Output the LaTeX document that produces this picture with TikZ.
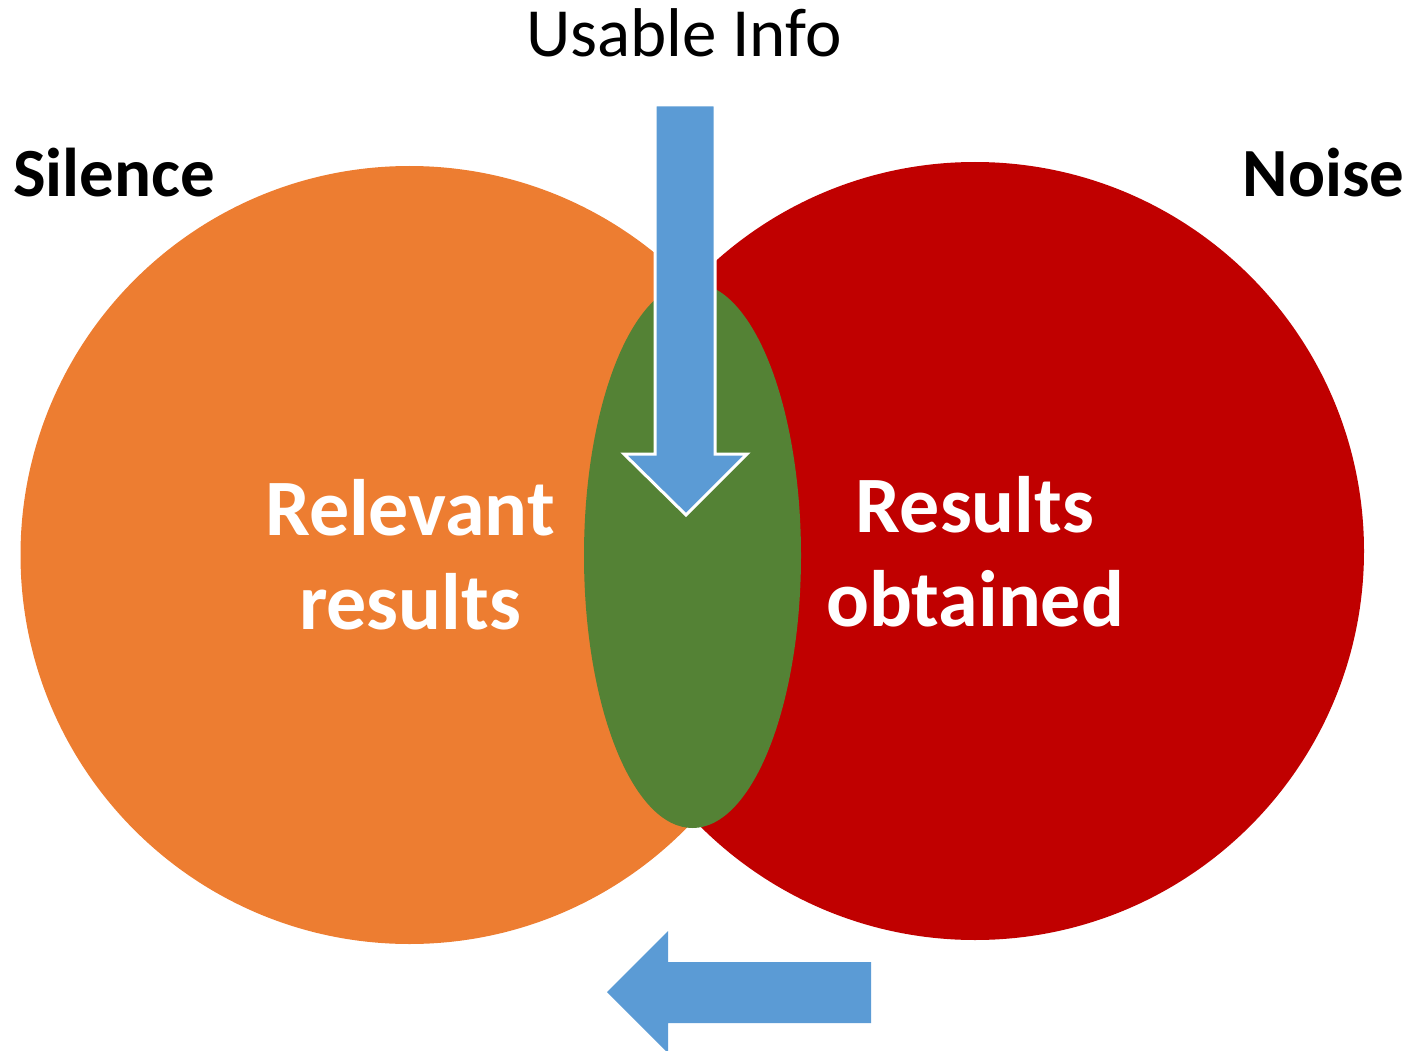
\documentclass[tikz,border=0pt]{standalone}
\usepackage{fontspec}
\setmainfont{Carlito}
\usetikzlibrary{shapes.geometric}
\definecolor{setorange}{HTML}{ED7D31}
\definecolor{setred}{HTML}{C00000}
\definecolor{setgreen}{HTML}{548235}
\definecolor{arrowblue}{HTML}{5B9BD5}
\begin{document}
\begin{tikzpicture}[x=1pt,y=-1pt,
  setdisc/.style={circle, inner sep=0pt, minimum size=778pt},
  setlabel/.style={white, align=center, font=\bfseries\fontsize{80}{94}\selectfont},
  sidelabel/.style={black, anchor=base, font=\bfseries\fontsize{69}{80}\selectfont},
  blockarrow/.style={fill=arrowblue}]
\useasboundingbox (0,0) rectangle (1409,1051);

% the two sets and their overlap
\node[setdisc, fill=setorange] (relevant) at (409.5,555) {};
\node[setdisc, fill=setred] (obtained) at (975,551) {};
\node[ellipse, inner sep=0pt, minimum width=217pt, minimum height=545pt, fill=setgreen] (usable) at (692.5,555.5) {};

% labels inside the sets
\node[setlabel] (relevantlabel) at (410,555) {Relevant\\results};
\node[setlabel] (obtainedlabel) at (975,552) {Results\\obtained};

% labels outside
\node[sidelabel] (silence) at (114,197) {Silence};
\node[sidelabel] (noise) at (1323.5,197) {Noise};
\node[anchor=base, font=\fontsize{69}{80}\selectfont] (usableinfo) at (684,57) {Usable Info};

% arrow pointing down into the overlap
\draw[blockarrow, draw=white, line width=3pt, line join=miter]
  (655,105) -- (715,105) -- (715,454) -- (747,454) -- (686,515)
  -- (624,454) -- (655,454) -- cycle;

% arrow pointing left below the sets
\fill[arrowblue]
  (871,962) -- (871,1023) -- (668,1023) -- (668,1053) -- (607,992)
  -- (668,931) -- (668,962) -- cycle;
\end{tikzpicture}
\end{document}
